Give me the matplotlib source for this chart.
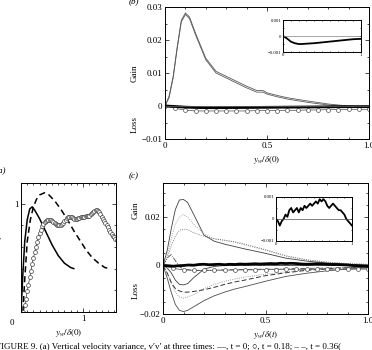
import matplotlib.pyplot as plt
import numpy as np
from matplotlib.ticker import MultipleLocator

plt.rcParams['font.family'] = ['Liberation Serif', 'DejaVu Serif']
plt.rcParams['mathtext.fontset'] = 'stix'

# ---- panel (a): v'v' profiles
xa_solid = [0, .03, .06, .10, .14, .18, .22, .30, .40, .50, .60, .70, .80, .85]
ya_solid = [0, .35, .65, .85, .95, .97, .94, .86, .74, .62, .52, .45, .41, .40]
xa_dash = [.03, .06, .10, .15, .20, .25, .30, .38, .45, .55, .65, .75, .85, .95, 1.05, 1.15, 1.25, 1.35, 1.43]
ya_dash = [0, .30, .65, .85, .97, 1.04, 1.08, 1.10, 1.08, 1.02, .94, .85, .75, .66, .57, .50, .45, .41, .40]
xa_circ = [.04, .06, .08, .10, .12, .14, .16, .18, .20, .22, .24, .26, .28, .30, .32, .34, .36, .38, .40, .42,
           .44, .46, .48, .50, .52, .54, .56, .58, .60, .62, .64, .66, .68, .70, .72, .74, .76, .78, .80, .82,
           .84, .86, .88, .90, .92, .94, .96, .98, 1.00, 1.02, 1.04, 1.06, 1.08, 1.10, 1.12, 1.14, 1.16, 1.18,
           1.20, 1.22, 1.24, 1.26, 1.28, 1.30, 1.32, 1.34, 1.36, 1.38, 1.40, 1.42, 1.44, 1.46, 1.48, 1.50, 1.52,
           1.54, 1.56]
ya_circ = [0, .06, .12, .19, .25, .32, .38, .44, .50, .55, .60, .65, .69, .73, .76, .79, .81, .83, .84, .85,
           .85, .85, .85, .84, .83, .82, .81, .80, .80, .80, .80, .81, .82, .84, .85, .87, .88, .88, .88, .88,
           .87, .86, .86, .86, .87, .87, .88, .88, .88, .88, .89, .89, .89, .89, .90, .91, .92, .93,
           .94, .94, .93, .92, .90, .88, .86, .84, .82, .80, .78, .76, .74, .72, .70, .69, .67,
           .66, .64]

# ---- panel (b): budget at t = 0
xb = [0, .02, .04, .06, .08, .10, .12, .15, .20, .25, .30, .35, .40, .45, .48, .50, .55, .60, .70, .80, .90, 1.0]
gain_b = [0, .003, .009, .018, .026, .0282, .027, .022, .0145, .0105, .0090, .0075, .0060, .0047, .0047, .0040,
          .0032, .0025, .0015, .0006, .0000, -.0003]
gain_b2 = [0, .0025, .0085, .0175, .0255, .0277, .0265, .0215, .0140, .0100, .0085, .0070, .0055, .0042, .0042,
           .0036, .0028, .0021, .0011, .0003, -.0002, -.0004]
xb_circ = [0, .05, .10, .15, .20, .25, .30, .35, .40, .45, .50, .55, .60, .65, .70, .75, .80, .85, .90, .95, 1.0]
loss_b = [0, -.0007, -.0013, -.0015, -.0015, -.0015, -.0015, -.0015, -.0015, -.0014, -.0014, -.0014, -.0013,
          -.0013, -.0012, -.0012, -.0011, -.0011, -.0010, -.0010, -.0010]
xb_net = [0, .05, .10, .15, .20, .25, .30, .40, .50, .60, .70, .80, .90, 1.0]
net_b = [0, -.00015, -.00035, -.00045, -.0005, -.0005, -.00048, -.00045, -.0004, -.00035, -.0003, -.00025,
         -.0002, -.00018]

# ---- panel (c): budget at later time
xc = [0, .02, .04, .06, .08, .10, .12, .15, .20, .25, .30, .35, .40, .50, .60, .70, .80, .90, 1.0]
gain_c = [0, .006, .015, .023, .027, .0272, .026, .021, .0125, .0100, .0088, .0078, .0068, .0050, .0030, .0018,
          .0010, .0005, .0002]
dot_hi_c = [0, .004, .011, .017, .020, .021, .020, .017, .013, .011, .0105, .0095, .0085, .0063, .0038, .0022,
            .0013, .0007, .0004]
dot_lo_c = [0, .003, .008, .012, .0145, .015, .0148, .0135, .012, .011, .0103, .0098, .0088, .0065, .0040, .0024,
            .0014, .0008, .0005]
low_c = [0, -.005, -.011, -.016, -.0185, -.019, -.0185, -.017, -.0145, -.0125, -.011, -.0097, -.0087, -.0065,
         -.0045, -.0032, -.0022, -.0015, -.0010]
dash_c = [0, -.003, -.007, -.0095, -.0105, -.011, -.011, -.0107, -.0100, -.0090, -.0078, -.0068, -.0060, -.0042,
          -.0030, -.0020, -.0014, -.0010, -.0007]
dot_neg_c = [0, -.003, -.007, -.011, -.013, -.0135, -.013, -.012, -.0095, -.0078, -.0065, -.0056, -.0048, -.0036,
             -.0026, -.0018, -.0012, -.0008, -.0005]
mid_c = [0, -.001, -.003, -.006, -.0078, -.008, -.0075, -.005, -.0015, -.0004, 0, 0, 0, 0, 0, 0, 0, 0, 0]
x_bump = [0, .02, .04, .06, .08, .10, .15, .20, .30, .50, .70, 1.0]
bump_c = [0, .003, .0045, .002, -.0005, -.0015, -.002, -.002, -.0018, -.0015, -.0012, -.0008]
xc_circ = xb_circ
loss_c = [0, -.0012, -.0018, -.0020, -.0020, -.0020, -.0019, -.0019, -.0018, -.0018, -.0017, -.0017, -.0016,
          -.0016, -.0016, -.0015, -.0015, -.0015, -.0015, -.0015, -.0015]
net_c = [0, -.0001, -.0003, -.0001, 0, .0002, .0001, .0004, .0005, .0003, .0004, .0005, .0003, .0005, .0004,
         .0006, .0005, .0006, .0007, .0006, .0007, .0008, .0007, .0009, .0008, .0009, .0008, .0006, .0005, .0006,
         .0007, .0006, .0005, .0004, .0004, .0003, .0002, 0, -.0001, -.0002, -.0003]
xc_net = np.linspace(0, 1, len(net_c))

fig = plt.figure(figsize=(3.72, 3.5), dpi=100)
fs = 6.5


def style(ax, xminor, yminor):
    ax.xaxis.set_minor_locator(MultipleLocator(xminor))
    ax.yaxis.set_minor_locator(MultipleLocator(yminor))
    ax.tick_params(which='both', direction='in', top=True, right=True, width=0.5, labelsize=fs, pad=2)
    ax.tick_params(which='major', length=3)
    ax.tick_params(which='minor', length=1.5)
    for s in ax.spines.values():
        s.set_linewidth(0.7)


# (a)
axa = fig.add_axes([21/372, 1-312/350, 95/372, 129/350])
axa.plot(xa_solid, ya_solid, 'k-', lw=1.1)
axa.plot(xa_dash, ya_dash, 'k--', lw=1.1, dashes=(4, 2.5))
axa.plot(xa_circ, ya_circ, 'k-', lw=0.4, marker='o', ms=2.8, mfc='white', mec='0.25', mew=0.5)
axa.set_xlim(0, 1.53)
axa.set_ylim(0, 1.19)
axa.set_xticks([0, 1])
axa.set_xticklabels(['', '1'])
axa.set_yticks([0, 1])
axa.set_yticklabels(['', '1'])
style(axa, 0.1, 0.2)
axa.set_xlabel(r'$y_w/\delta(0)$', fontsize=fs, labelpad=3)
axa.set_ylabel(r"$\overline{v'v'}/u_\tau^2(0)$", fontsize=fs, labelpad=0)
axa.yaxis.set_label_coords(-0.17, 0.55)
fig.text(-0.012, 0.505, '(a)', fontsize=fs, style='italic')
fig.text(0.032, 0.078, '0', fontsize=fs, ha='center', va='center')

# (b)
axb = fig.add_axes([165/372, 1-139/350, 204/372, 132/350])
axb.plot(xb, gain_b, color='0.35', lw=0.6)
axb.plot(xb, gain_b2, color='0.35', lw=0.6)
axb.plot(xb_circ, loss_b, color='0.3', lw=0.5, marker='o', ms=2.8, mfc='white', mec='0.3', mew=0.5)
axb.plot(xb_net, net_b, 'k-', lw=2.0)
axb.axhline(0, color='0.4', lw=0.5)
axb.set_xlim(0, 1)
axb.set_ylim(-0.01, 0.03)
axb.set_xticks([0, 0.5, 1.0])
axb.set_xticklabels(['0', '0.5', '1.0'])
axb.set_yticks([-0.01, 0, 0.01, 0.02, 0.03])
axb.set_yticklabels(['\u22120.01', '0', '0.01', '0.02', '0.03'])
style(axb, 0.1, 0.005)
axb.set_xlabel(r'$y_w/\delta(0)$', fontsize=fs, labelpad=3)
fig.text(0.362, 0.79, 'Gain', rotation=90, fontsize=fs, ha='center', va='center')
fig.text(0.362, 0.645, 'Loss', rotation=90, fontsize=fs, ha='center', va='center')
fig.text(0.345, 0.992, '(b)', fontsize=fs, style='italic')

axbi = fig.add_axes([283/372, 1-52/350, 78/372, 32/350])
axbi.plot(xb_net, net_b, 'k-', lw=1.3)
axbi.axhline(0, color='0.5', lw=0.5)
axbi.set_xlim(0, 1)
axbi.set_ylim(-0.001, 0.001)
axbi.set_xticks([0, 1])
axbi.set_yticks([-0.001, 0, 0.001])
axbi.set_yticklabels(['\u22120.001', '0', '0.001'])
style(axbi, 0.1, 0.0005)
axbi.tick_params(which='both', labelsize=3.5, pad=1)
axbi.tick_params(which='major', length=1.5)
axbi.tick_params(which='minor', length=1)

# (c)
axc = fig.add_axes([163/372, 1-314/350, 205/372, 131/350])
axc.plot(xc, gain_c, color='0.25', lw=0.6)
axc.plot(xc, dot_hi_c, color='0.55', lw=0.6, ls=':')
axc.plot(xc, dot_lo_c, color='0.35', lw=0.6, ls=':')
axc.plot(xc, low_c, color='0.3', lw=0.6)
axc.plot(xc, dot_neg_c, color='0.5', lw=0.6, ls=':')
axc.plot(xc, dash_c, color='0.2', lw=0.7, ls='--', dashes=(5, 2.5))
axc.plot(xc, mid_c, color='0.25', lw=0.6)
axc.plot(x_bump, bump_c, color='0.3', lw=0.6, ls='-.')
axc.plot(xc_circ, loss_c, color='0.3', lw=0.5, marker='o', ms=2.8, mfc='white', mec='0.3', mew=0.5)
axc.plot(xc_net, net_c, 'k-', lw=2.0)
axc.set_xlim(0, 1)
axc.set_ylim(-0.02, 0.034)
axc.set_xticks([0, 0.5, 1.0])
axc.set_xticklabels(['0', '0.5', '1.0'])
axc.set_yticks([-0.02, 0, 0.02])
axc.set_yticklabels(['\u22120.02', '0', '0.02'])
style(axc, 0.1, 0.005)
axc.set_xlabel(r'$y_w/\delta(t)$', fontsize=fs, labelpad=3)
fig.text(0.365, 0.40, 'Gain', rotation=90, fontsize=fs, ha='center', va='center')
fig.text(0.365, 0.17, 'Loss', rotation=90, fontsize=fs, ha='center', va='center')
fig.text(0.345, 0.49, '(c)', fontsize=fs, style='italic')

axci = fig.add_axes([276/372, 1-241/350, 76/372, 44/350])
axci.plot(xc_net, net_c, 'k-', lw=1.3)
axci.axhline(0, color='0.3', lw=0.5)
axci.set_xlim(0, 1)
axci.set_ylim(-0.001, 0.001)
axci.set_xticks([0, 1])
axci.set_yticks([-0.001, 0, 0.001])
axci.set_yticklabels(['\u22120.001', '0', '0.001'])
style(axci, 0.1, 0.0005)
axci.tick_params(which='both', labelsize=3.5, pad=1)
axci.tick_params(which='major', length=1.5)
axci.tick_params(which='minor', length=1)

fig.text(-0.012, -0.004, "FIGURE 9. (a) Vertical velocity variance, v\u2032v\u2032 at three times: \u2014, t = 0; "
         "\u25cb, t = 0.18; \u2013 \u2013, t = 0.36(", fontsize=fs, va='bottom')

fig.savefig('out.png', dpi=100)
